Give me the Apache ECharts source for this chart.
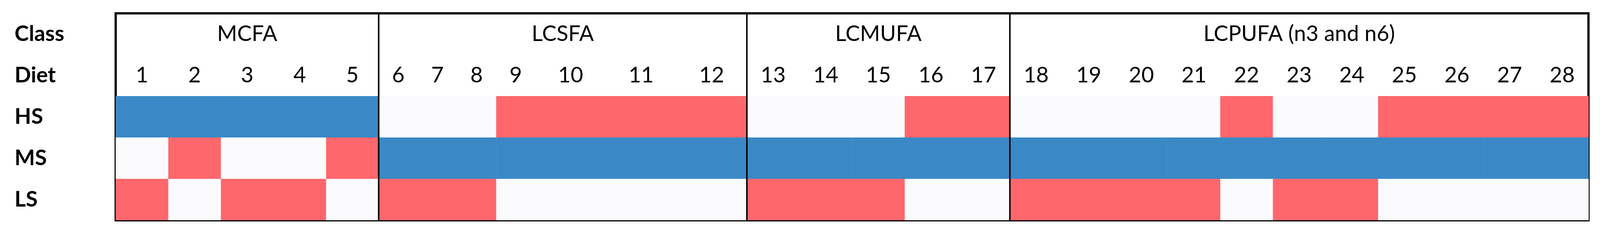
<!DOCTYPE html>
<html>
  <head>
    <meta charset="UTF-8" />
    <title>Diet class grid</title>
    <script src="https://cdn.jsdelivr.net/npm/echarts@6.0.0/dist/echarts.min.js"></script>
    <style>
      html, body { margin: 0; padding: 0; background: #fff; overflow: hidden; }
    </style>
  </head>
  <body>
    <div id="dietChart" style="width: 100vw; height: 100vh"></div>
  </body>
  <script>
    // rows, bottom to top on the y axis
    const rowNames = ['LS', 'MS', 'HS', 'Diet', 'Class'];
    const diets = ['1','2','3','4','5','6','7','8','9','10','11','12','13','14','15','16','17','18','19','20','21','22','23','24','25','26','27','28'];
    // relative column widths as drawn in the original
    const dietSpan = [141,141,141,141,141,105,105,105,105,189,189,189,141,141,141,141,141,141,141,141,141,141,141,141,141,141,141,141];
    const classNames = ['MCFA', 'LCSFA', 'LCMUFA', 'LCPUFA (n3 and n6)'];
    const classDietCount = [5, 7, 5, 11];
    // 0 = none, 1 = red, 2 = blue
    const hsValues = [2,2,2,2,2, 0,0,0,1,1,1,1, 0,0,0,1,1, 0,0,0,0,1,0,0,1,1,1,1];
    const msValues = [0,1,0,0,1, 2,2,2,2,2,2,2, 2,2,2,2,2, 2,2,2,2,2,2,2,2,2,2,2];
    const lsValues = [1,0,1,1,0, 1,1,1,0,0,0,0, 1,1,1,0,0, 1,1,1,1,0,1,1,0,0,0,0];

    const cellColors = ['#fbfbfd', '#fe676c', '#3a89c6'];

    let edges = [0];
    dietSpan.forEach(w => edges.push(edges[edges.length - 1] + w));
    let classEdges = [0];
    classDietCount.forEach(n => classEdges.push(classEdges[classEdges.length - 1] + n));

    let cells = [];
    [lsValues, msValues, hsValues].forEach((vals, r) => {
      vals.forEach((v, c) => cells.push([c, r, v]));
    });

    let myChart = echarts.init(document.getElementById('dietChart'));
    const W = document.getElementById('dietChart').clientWidth;
    const s = W / 4288; // scale fonts if the window is not 4288 wide

    myChart.setOption({
      animation: false,
      grid: { left: '7.23%', right: '0.72%', top: '5.56%', bottom: '7.84%', show: true, borderColor: '#000', borderWidth: 6 * s },
      xAxis: {
        type: 'value', min: 0, max: edges[edges.length - 1],
        splitLine: { show: false }, axisLine: { show: false }, axisLabel: { show: false },
        axisTick: { show: true, inside: true, length: 6 * s, lineStyle: { color: '#000', width: 3 * s }, customValues: edges.slice(1, -1) }
      },
      yAxis: {
        type: 'category', data: rowNames,
        axisLine: { show: false }, axisTick: { show: false }, splitLine: { show: false },
        axisLabel: {
          margin: 271 * s, align: 'left', fontFamily: 'Lato', fontWeight: 'bold', fontSize: 58 * s, color: '#000'
        }
      },
      series: [
        {
          type: 'custom',
          data: cells,
          renderItem: (params, api) => {
            let c = api.value(0), r = api.value(1);
            let p0 = api.coord([edges[c], r]);
            let p1 = api.coord([edges[c + 1], r]);
            let h = api.size([0, 1])[1];
            return {
              type: 'rect',
              shape: { x: p0[0], y: p0[1] - h / 2, width: p1[0] - p0[0] + 0.5, height: h },
              style: { fill: cellColors[api.value(2)] }
            };
          }
        },
        {
          type: 'custom',
          data: diets.map((d, i) => [i]),
          renderItem: (params, api) => {
            let c = api.value(0);
            let p = api.coord([(edges[c] + edges[c + 1]) / 2, 3]);
            return {
              type: 'text',
              style: { x: p[0], y: p[1], text: diets[c], align: 'center', verticalAlign: 'middle',
                font: (58 * s) + 'px Lato', fill: '#000' }
            };
          }
        },
        {
          type: 'custom',
          data: classNames.map((d, i) => [i]),
          renderItem: (params, api) => {
            let g = api.value(0);
            let xa = edges[classEdges[g]], xb = edges[classEdges[g + 1]];
            let p = api.coord([(xa + xb) / 2, 4]);
            let h = api.size([0, 1])[1];
            let top = api.coord([xb, 4]), bot = api.coord([xb, 0]);
            let children = [{
              type: 'text',
              style: { x: p[0], y: p[1], text: classNames[g], align: 'center', verticalAlign: 'middle',
                font: (58 * s) + 'px Lato', fill: '#000' }
            }];
            if (g < classNames.length - 1) {
              children.push({
                type: 'line',
                shape: { x1: top[0], y1: top[1] - h / 2, x2: bot[0], y2: bot[1] + h / 2 },
                style: { stroke: '#000', lineWidth: 4 * s }
              });
            }
            return { type: 'group', children: children };
          }
        }
      ]
    });
  </script>
</html>
